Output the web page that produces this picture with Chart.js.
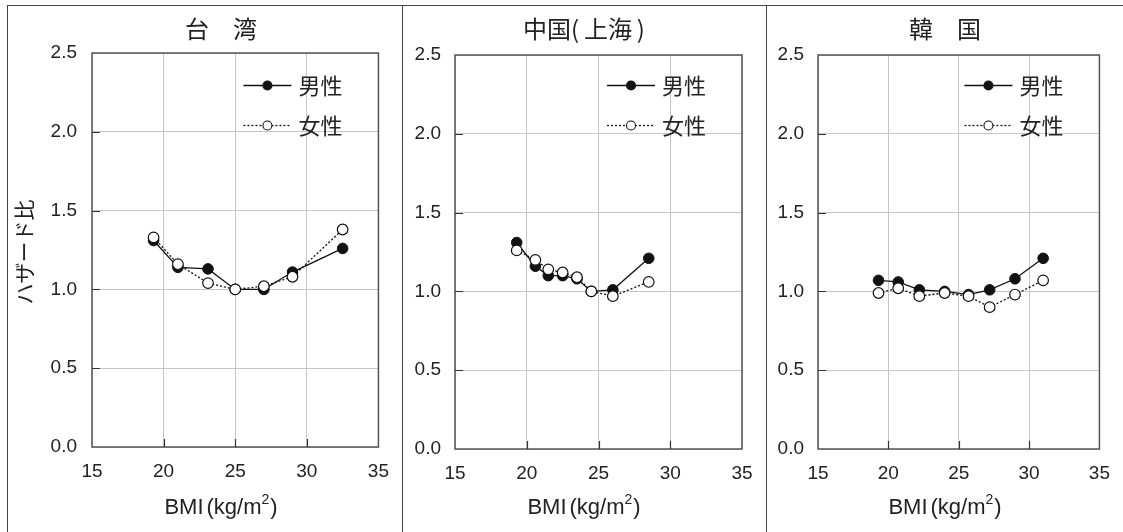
<!DOCTYPE html>
<html lang="ja">
<head>
<meta charset="UTF-8">
<title>BMI とハザード比</title>
<script src="https://cdn.jsdelivr.net/npm/chart.js"></script>
<style>
    body { margin: 0; background: #fff; }
    #wrap { position: relative; width: 1123px; height: 532px; overflow: hidden; }
    canvas { position: absolute; top: 0; }
    .frame { position: absolute; background: #444; }
</style>
</head>
<body>
<div id="wrap">
    <div class="frame" style="left:7px; top:5px; width:1116px; height:1px;"></div>
    <div class="frame" style="left:7px; top:5px; width:1px; height:527px;"></div>
    <div class="frame" style="left:402px; top:5px; width:1px; height:527px;"></div>
    <div class="frame" style="left:766px; top:5px; width:1px; height:527px;"></div>
    <canvas id="tw" width="394" height="532" style="left:8px"></canvas>
    <canvas id="cn" width="363" height="532" style="left:403px"></canvas>
    <canvas id="kr" width="356" height="532" style="left:767px"></canvas>
</div>
<script>
// data
const xTicks = [15, 20, 25, 30, 35];
const yTicks = [0.0, 0.5, 1.0, 1.5, 2.0, 2.5];
const legendLabels = ['男性', '女性'];

const bmiTW = [19.3, 21.0, 23.1, 25.0, 27.0, 29.0, 32.5];
const maleTW = [1.31, 1.14, 1.13, 1.00, 1.00, 1.11, 1.26];
const femaleTW = [1.33, 1.16, 1.04, 1.00, 1.02, 1.08, 1.38];

const bmiCN = [19.3, 20.6, 21.5, 22.5, 23.5, 24.5, 26.0, 28.5];
const maleCN = [1.31, 1.16, 1.10, 1.10, 1.08, 1.00, 1.01, 1.21];
const femaleCN = [1.26, 1.20, 1.14, 1.12, 1.09, 1.00, 0.97, 1.06];

const bmiKR = [19.3, 20.7, 22.2, 24.0, 25.7, 27.2, 29.0, 31.0];
const maleKR = [1.07, 1.06, 1.01, 1.00, 0.98, 1.01, 1.08, 1.21];
const femaleKR = [0.99, 1.02, 0.97, 0.99, 0.97, 0.90, 0.98, 1.07];

const LATIN = "'Liberation Sans', Arial, 'Noto Sans CJK JP', sans-serif";
const CJK = "'Noto Sans CJK JP', 'Liberation Sans', sans-serif";
const INK = '#222';

// "BMI" + "(kg/m" + raised "2" + ")"
function drawBmiLabel(ctx, cx, cy) {
    const big = '22px ' + LATIN, small = '14px ' + LATIN;
    const gap = 3;
    ctx.font = big;
    const w0 = ctx.measureText('BMI').width;
    const w1 = ctx.measureText('(kg/m').width;
    const w3 = ctx.measureText(')').width;
    ctx.font = small;
    const w2 = ctx.measureText('2').width;
    let x = cx - (w0 + gap + w1 + w2 + w3 + 1) / 2;
    ctx.textAlign = 'left';
    ctx.font = big;
    ctx.fillText('BMI', x, cy);
    x += w0 + gap;
    ctx.fillText('(kg/m', x, cy);
    x += w1;
    ctx.font = small;
    ctx.fillText('2', x, cy - 8);
    x += w2 + 1;
    ctx.font = big;
    ctx.fillText(')', x, cy);
}

// box, inner ticks, titles and the small legend
const panelDeco = {
    id: 'panelDeco',
    afterDraw(chart, args, o) {
        const { ctx, chartArea: a, scales } = chart;
        ctx.save();
        ctx.strokeStyle = '#555';
        ctx.lineWidth = 1.5;
        ctx.strokeRect(a.left, a.top, a.right - a.left, a.bottom - a.top);

        // ticks pointing inward
        ctx.lineWidth = 1.2;
        ctx.strokeStyle = '#333';
        ctx.beginPath();
        scales.x.ticks.forEach(t => {
            if (t.value <= scales.x.min || t.value >= scales.x.max) return;
            const px = Math.round(scales.x.getPixelForValue(t.value)) + 0.5;
            ctx.moveTo(px, a.bottom);
            ctx.lineTo(px, a.bottom - 8);
        });
        scales.y.ticks.forEach(t => {
            if (t.value <= scales.y.min || t.value >= scales.y.max) return;
            const py = Math.round(scales.y.getPixelForValue(t.value)) + 0.5;
            ctx.moveTo(a.left, py);
            ctx.lineTo(a.left + 8, py);
        });
        ctx.stroke();

        ctx.fillStyle = INK;
        ctx.textAlign = 'center';
        ctx.textBaseline = 'middle';
        ctx.font = '24px ' + CJK;
        ctx.fillText(o.title, o.cx, 29);
        drawBmiLabel(ctx, o.cx, 508);

        if (o.yTitle) {
            ctx.save();
            ctx.textAlign = 'center';
            ctx.translate(16, 252);
            ctx.rotate(-Math.PI / 2);
            ctx.font = '21px ' + CJK;
            ctx.fillText(o.yTitle, 0, 0);
            ctx.restore();
        }

        // legend (male first, then female)
        const ds = [chart.data.datasets[1], chart.data.datasets[0]];
        ds.forEach((d, i) => {
            const y = a.top + o.legendTop + i * 40;
            const x0 = a.right - 135, x1 = a.right - 87, xm = a.right - 111;
            ctx.strokeStyle = '#111';
            ctx.lineWidth = 1.3;
            ctx.setLineDash(d.borderDash || []);
            ctx.beginPath();
            ctx.moveTo(x0, y + 0.5);
            ctx.lineTo(x1, y + 0.5);
            ctx.stroke();
            ctx.setLineDash([]);
            ctx.beginPath();
            ctx.arc(xm, y + 0.5, 4.5, 0, Math.PI * 2);
            ctx.fillStyle = d.pointBackgroundColor;
            ctx.fill();
            ctx.lineWidth = 1.1;
            ctx.stroke();
            ctx.fillStyle = INK;
            ctx.textAlign = 'left';
            ctx.font = '22px ' + CJK;
            ctx.fillText(d.label, a.right - 80, y + 1);
        });
        ctx.restore();
    }
};

function pts(xs, ys) {
    return xs.map((x, i) => ({ x: x, y: ys[i] }));
}

function makePanel(id, title, bmi, male, female, lay) {
    new Chart(document.getElementById(id), {
        type: 'line',
        data: {
            datasets: [
                {
                    label: legendLabels[1],
                    data: pts(bmi, female),
                    borderColor: '#111',
                    borderWidth: 1.3,
                    borderDash: [2, 2],
                    pointRadius: 5.3,
                    pointBorderWidth: 1.2,
                    pointBackgroundColor: '#fff',
                    pointBorderColor: '#111',
                    tension: 0,
                    order: 0
                },
                {
                    label: legendLabels[0],
                    data: pts(bmi, male),
                    borderColor: '#111',
                    borderWidth: 1.3,
                    pointRadius: 5.3,
                    pointBorderWidth: 1,
                    pointBackgroundColor: '#111',
                    pointBorderColor: '#111',
                    tension: 0,
                    order: 1
                }
            ]
        },
        options: {
            responsive: false,
            animation: false,
            layout: { padding: { top: lay.top, right: lay.right, left: 0, bottom: 0 } },
            plugins: {
                legend: { display: false },
                tooltip: { enabled: false },
                panelDeco: { title: title, cx: lay.cx, yTitle: lay.yTitle, legendTop: lay.legendTop }
            },
            scales: {
                x: {
                    type: 'linear',
                    min: xTicks[0],
                    max: xTicks[xTicks.length - 1],
                    afterBuildTicks: s => { s.ticks = xTicks.map(v => ({ value: v })); },
                    ticks: { padding: 13, color: INK, font: { family: LATIN, size: 19 } },
                    grid: { color: '#c6c6c6', lineWidth: 1, drawTicks: false },
                    border: { display: false },
                    afterFit: s => { s.height = lay.xH; }
                },
                y: {
                    min: yTicks[0],
                    max: yTicks[yTicks.length - 1],
                    afterBuildTicks: s => { s.ticks = yTicks.map(v => ({ value: v })); },
                    ticks: {
                        padding: lay.yPad,
                        color: INK,
                        font: { family: LATIN, size: 19 },
                        callback: v => Number(v).toFixed(1)
                    },
                    grid: { color: '#c6c6c6', lineWidth: 1, drawTicks: false },
                    border: { display: false },
                    afterFit: s => { s.width = lay.yW; }
                }
            }
        },
        plugins: [panelDeco]
    });
}

makePanel('tw', '台　湾', bmiTW, maleTW, femaleTW,
    { top: 53, right: 22, yW: 84, xH: 85, yPad: 15, cx: 213, yTitle: 'ハザード比', legendTop: 32 });
makePanel('cn', '中国(\u2009上海\u2009)', bmiCN, maleCN, femaleCN,
    { top: 55, right: 24, yW: 52, xH: 83, yPad: 14, cx: 181, legendTop: 30 });
makePanel('kr', '韓　国', bmiKR, maleKR, femaleKR,
    { top: 55, right: 17, yW: 51, xH: 83, yPad: 14, cx: 178, legendTop: 30 });
</script>
</body>
</html>
